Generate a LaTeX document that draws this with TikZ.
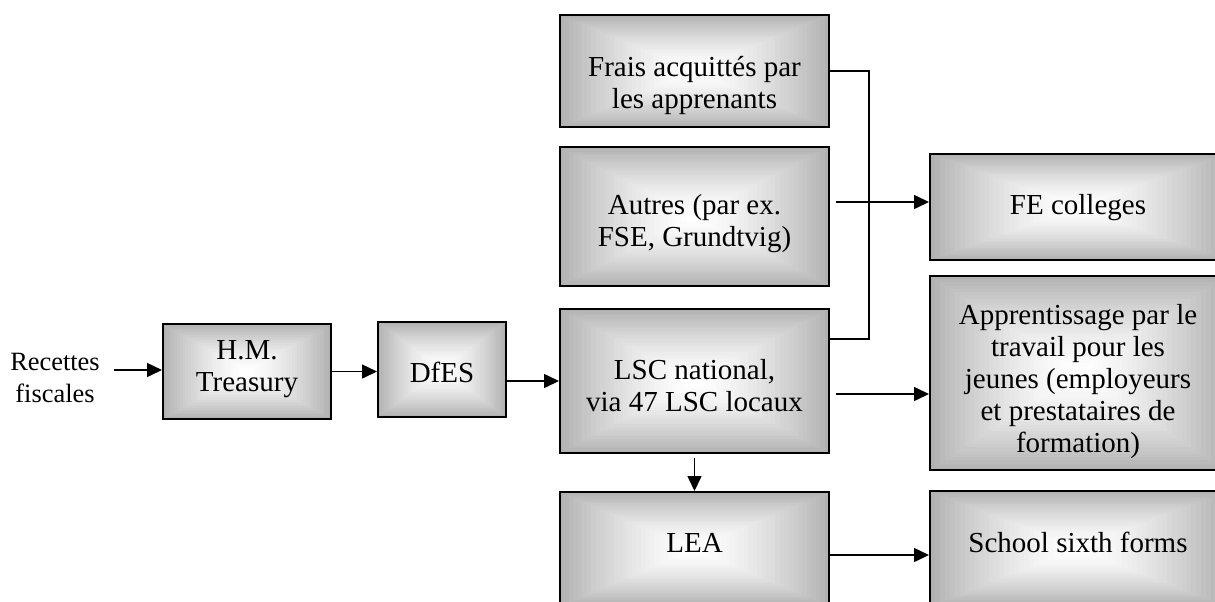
\documentclass[tikz,border=0pt]{standalone}
\usepackage{fontspec}
\setmainfont{Liberation Serif}
\usetikzlibrary{arrows.meta,calc}

\tikzset{
  gbox/.style={draw, line width=1pt, inner sep=0pt,
    path picture={
      \foreach \k [evaluate=\k as \c using 30*(1-\k/30)^1.5] in {0,...,29}
        \fill[black!\c] ($(path picture bounding box.south west)!\k/60!(path picture bounding box.north east)$)
          rectangle ($(path picture bounding box.north east)!\k/60!(path picture bounding box.south west)$);
    }},
  boxtext/.style={align=center, inner sep=0pt, font=\fontsize{14.5pt}{16pt}\selectfont},
  arr/.style={line width=0.75pt, -{Triangle[length=7.5pt,width=7pt]}},
  link/.style={line width=0.75pt},
}

\begin{document}
\begin{tikzpicture}[x=0.5pt,y=0.5pt,yscale=-1]
\useasboundingbox (0,0) rectangle (1215,601);
\clip (0,0) rectangle (1215,601);

%Shape: Rectangles
\node[gbox, minimum width=84pt, minimum height=47.5pt] (hmt) at (247,371.5) {};
\node[gbox, minimum width=64pt, minimum height=47.5pt] (dfes) at (442,369.5) {};
\node[gbox, minimum width=134.5pt, minimum height=56pt] (frais) at (694.5,71) {};
\node[gbox, minimum width=134.5pt, minimum height=69.5pt] (autres) at (694.5,216.5) {};
\node[gbox, minimum width=134.5pt, minimum height=72pt] (lsc) at (694.5,381) {};
\node[gbox, minimum width=134.5pt, minimum height=57pt] (lea) at (694.5,549) {};
\node[gbox, minimum width=148pt, minimum height=53pt] (fe) at (1078,207) {};
\node[gbox, minimum width=148pt, minimum height=97pt] (app) at (1078,373) {};
\node[gbox, minimum width=148pt, minimum height=57.5pt] (school) at (1078,548.5) {};

% Text Node
\node[align=center, inner sep=0pt, font=\fontsize{13.2pt}{16pt}\selectfont] (rec) at (55,378) {Recettes\\fiscales};
% Text Node
\node[boxtext] (hmt-t) at (247,369) {H.M.\\Treasury};
% Text Node
\node[boxtext] (dfes-t) at (442,372.5) {DfES};
% Text Node
\node[boxtext] (frais-t) at (694.5,85) {Frais acquittés par\\les apprenants};
% Text Node
\node[boxtext] (autres-t) at (694.5,224) {Autres (par ex.\\FSE, Grundtvig)};
% Text Node
\node[boxtext] (lsc-t) at (694.5,385.5) {LSC national,\\via 47 LSC locaux};
% Text Node
\node[boxtext] (lea-t) at (694.5,542.5) {LEA};
% Text Node
\node[boxtext] (fe-t) at (1078,208) {FE colleges};
% Text Node
\node[boxtext] (app-t) at (1078,382) {Apprentissage par le\\travail pour les\\jeunes (employeurs\\et prestataires de\\formation)};
% Text Node
\node[boxtext] (school-t) at (1078,542) {School sixth forms};

%Straight Lines
\coordinate (rin) at (114,370);
\draw[arr] (rin) -- (rin -| hmt.west);
\draw[arr] (hmt.east) -- (hmt.east -| dfes.west);
\draw[arr] (dfes.east |- lsc.west) -- (lsc.west);
\draw[link] (frais.east) -- ++(39,0) |- ($(lsc.east)+(0,-42)$);
\coordinate (fe-in) at ($(fe.west)+(0,-5)$);
\draw[arr] ($(autres.east |- fe-in)+(6,0)$) -- (fe-in);
\coordinate (app-in) at ($(app.west)+(0,21)$);
\draw[arr] ($(lsc.east |- app-in)+(6,0)$) -- (app-in);
\draw[arr] ($(lsc.south)+(0,4)$) -- (lea.north);
\draw[arr] ($(lea.east)+(0,6)$) -- ($(lea.east -| school.west)+(0,6)$);
\end{tikzpicture}
\end{document}
